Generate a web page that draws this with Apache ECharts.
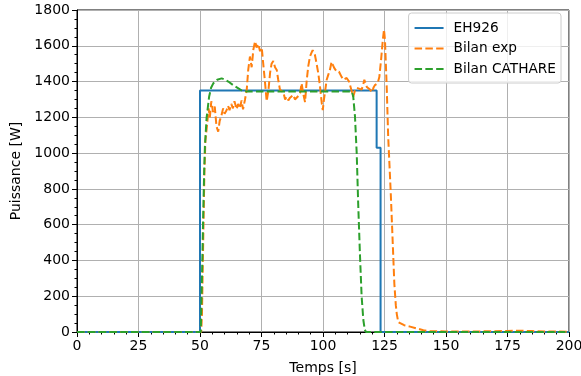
<!DOCTYPE html>
<html><head><meta charset="utf-8">
<script src="https://cdn.jsdelivr.net/npm/echarts@6/dist/echarts.min.js"></script>
<style>html,body{margin:0;padding:0;background:#fff}#c{width:581px;height:376px}</style>
</head><body><div id="c"></div>
<script>
var xTicks = [0, 25, 50, 75, 100, 125, 150, 175, 200];
var yTicks = [0, 200, 400, 600, 800, 1000, 1200, 1400, 1600, 1800];

var ehTime  = [0, 50, 50, 121.8, 121.8, 123.4, 123.4, 200];
var ehPower = [0, 0, 1350, 1350, 1030, 1030, 0, 0];

var expTime = [0,50.5,50.8,51.3,51.8,52.2,52.8,53.5,54,54.6,55.3,56,56.7,57.4,58,58.7,59.4,60,60.8,61.4,62,62.7,63.4,64,64.9,65.5,66.2,66.9,67.5,68.3,69,69.6,70.3,71,71.7,72.4,73,73.7,74.4,75.1,75.7,76.4,77.1,77.8,78.5,79.1,79.8,80.5,81.2,81.8,82.5,83.2,83.9,84.6,85.2,85.9,86.6,87.2,87.9,88.6,89.3,90,90.7,91.3,92,92.7,93.4,94,94.7,95.3,95.8,96.7,97.4,98.1,98.8,99.5,99.9,100.4,100.8,101.5,102.2,102.8,103.5,104.1,104.6,105.6,106.5,107.6,108.3,109.6,110.6,111.2,111.7,112.3,113,113.7,114.4,115.7,116.3,116.8,117.8,118.5,119.1,120,120.5,121.1,122.2,122.9,123.6,124.3,124.8,125.2,125.9,126.5,127.5,128.2,129,129.6,130,130.6,131.3,133,135.4,138,140.8,143,146,150,160,170,175,180,185,190,200];
var expPower = [0,0,100,500,900,1070,1148,1250,1200,1290,1230,1260,1150,1120,1180,1210,1250,1220,1240,1265,1240,1275,1250,1290,1245,1275,1250,1295,1245,1300,1355,1465,1540,1480,1580,1625,1590,1610,1570,1590,1500,1400,1290,1350,1450,1500,1515,1480,1465,1410,1355,1350,1340,1300,1315,1295,1310,1300,1325,1300,1310,1320,1335,1390,1330,1285,1410,1485,1540,1560,1575,1550,1500,1445,1370,1280,1240,1300,1340,1410,1440,1465,1510,1490,1475,1455,1455,1425,1410,1420,1400,1370,1345,1315,1350,1365,1370,1355,1380,1410,1370,1360,1355,1340,1365,1380,1390,1425,1520,1630,1690,1630,1370,1090,790,550,270,150,100,55,45,38,30,20,10,5,4,3,3,4,6,7,5,3,2];

var cathTime  = [0,50.3,50.8,51.3,51.7,52,52.7,53.7,54.5,55.4,57,58.8,60,61.5,63.5,65.6,67,69,80,100,111.7,112.3,113,113.7,114.3,115,115.7,116.4,117,117.5,200];
var cathPower = [0,0,300,650,900,1040,1200,1315,1365,1390,1410,1418,1412,1400,1380,1362,1350,1345,1345,1345,1345,1315,1205,1000,720,440,200,67,12,0,0];

function pairs(t, p) { return t.map(function (v, i) { return [v, p[i]]; }); }

var font = 'DejaVu Sans';
var chart = echarts.init(document.getElementById('c'), null, {renderer: 'canvas'});
chart.setOption({
  animation: false,
  backgroundColor: '#fff',
  textStyle: {fontFamily: font},
  grid: {left: 77, right: 12, top: 10, bottom: 44, containLabel: false, outerBoundsMode: 'none',
         show: true, borderColor: '#000', borderWidth: 1, backgroundColor: 'transparent'},
  legend: {
    orient: 'vertical', right: 20, top: 13, padding: [8, 5, 7, 5], itemGap: 6.5,
    itemWidth: 29, itemHeight: 14, backgroundColor: 'rgba(255,255,255,0.8)',
    borderColor: '#cccccc', borderWidth: 1, borderRadius: 3,
    itemStyle: {opacity: 0},
    textStyle: {fontFamily: font, fontSize: 13.7, color: '#000', padding: [0, 0, 0, 5]},
    data: ['EH926', 'Bilan exp', 'Bilan CATHARE']
  },
  xAxis: {
    type: 'value', min: xTicks[0], max: xTicks[xTicks.length - 1], interval: 25,
    name: 'Temps [s]', nameLocation: 'middle', nameGap: 29,
    nameTextStyle: {fontFamily: font, fontSize: 14, color: '#000'},
    axisLine: {show: true, lineStyle: {color: '#000', width: 1}},
    axisTick: {show: true, inside: false, length: 5, lineStyle: {color: '#000'}},
    minorTick: {show: true, splitNumber: 5, length: 2.5, lineStyle: {color: '#000'}},
    axisLabel: {fontFamily: font, fontSize: 14, color: '#000', margin: 7, formatter: function (v) { return String(v); }},
    splitLine: {show: true, lineStyle: {color: '#b0b0b0', width: 1}}
  },
  yAxis: {
    type: 'value', min: yTicks[0], max: yTicks[yTicks.length - 1], interval: 200,
    name: 'Puissance [W]', nameLocation: 'middle', nameGap: 47,
    nameTextStyle: {fontFamily: font, fontSize: 14, color: '#000'},
    axisLine: {show: true, lineStyle: {color: '#000', width: 1}},
    axisTick: {show: true, inside: false, length: 5, lineStyle: {color: '#000'}},
    minorTick: {show: true, splitNumber: 4, length: 2.5, lineStyle: {color: '#000'}},
    axisLabel: {fontFamily: font, fontSize: 14, color: '#000', margin: 7, formatter: function (v) { return String(v); }},
    splitLine: {show: true, lineStyle: {color: '#b0b0b0', width: 1}}
  },
  series: [
    {name: 'EH926', type: 'line', data: pairs(ehTime, ehPower), showSymbol: false, symbol: 'none',
     lineStyle: {color: '#1f77b4', width: 2}, itemStyle: {color: '#1f77b4'}},
    {name: 'Bilan exp', type: 'line', data: pairs(expTime, expPower), showSymbol: false, symbol: 'none',
     lineStyle: {color: '#ff7f0e', width: 2, type: [7.5, 3.3]}, itemStyle: {color: '#ff7f0e'}},
    {name: 'Bilan CATHARE', type: 'line', data: pairs(cathTime, cathPower), showSymbol: false, symbol: 'none',
     lineStyle: {color: '#2ca02c', width: 2, type: [7.5, 3.3]}, itemStyle: {color: '#2ca02c'}}
  ]
});
</script></body></html>
